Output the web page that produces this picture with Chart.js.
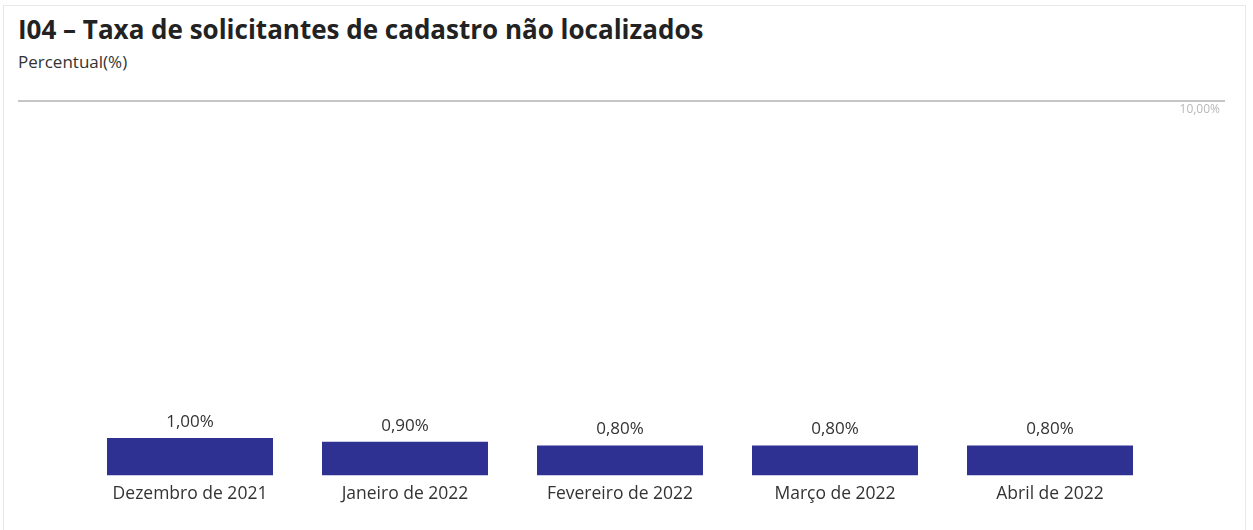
<!DOCTYPE html>
<html lang="pt">
<head>
    <meta charset="UTF-8">
    <title>I04 – Taxa de solicitantes de cadastro não localizados</title>
    <style>
        html, body { margin: 0; padding: 0; background: #fff; }
        body { width: 1253px; height: 530px; position: relative; overflow: hidden; font-family: "Open Sans", sans-serif; }
        .frame { position: absolute; left: 3px; top: 5px; width: 1243px; height: 540px; border: 1px solid #e8e8e8; box-sizing: border-box; }
        h1 { position: absolute; left: 18px; top: 11px; margin: 0; font-size: 26px; font-weight: 700; color: #222; white-space: nowrap; }
        .sub { position: absolute; left: 18px; top: 50px; margin: 0; font-size: 17px; color: #333; }
        #chartWrap { position: absolute; left: 0; top: 0; width: 1253px; height: 530px; }
    </style>
</head>
<body>
    <div class="frame"></div>
    <h1>I04 – Taxa de solicitantes de cadastro não localizados</h1>
    <p class="sub">Percentual(%)</p>
    <div id="chartWrap"><canvas id="taxaChart"></canvas></div>

    <script src="https://cdn.jsdelivr.net/npm/chart.js"></script>
    <script>
        const meses = ['Dezembro de 2021', 'Janeiro de 2022', 'Fevereiro de 2022', 'Março de 2022', 'Abril de 2022'];
        const taxas = [1.00, 0.90, 0.80, 0.80, 0.80];
        const yMax = 10;

        const fmt = v => v.toFixed(2).replace('.', ',') + '%';

        // top reference line + value labels
        const extras = {
            id: 'extras',
            afterDraw(chart) {
                const ctx = chart.ctx;
                const y = chart.scales.y.getPixelForValue(yMax);
                ctx.save();
                ctx.strokeStyle = '#c6c6c6';
                ctx.lineWidth = 2;
                ctx.beginPath();
                ctx.moveTo(18, y);
                ctx.lineTo(1225, y);
                ctx.stroke();
                ctx.fillStyle = '#b8b8b8';
                ctx.font = '12px "Open Sans"';
                ctx.textAlign = 'right';
                ctx.textBaseline = 'middle';
                ctx.fillText(fmt(yMax), 1220, y + 9);

                ctx.fillStyle = '#333';
                ctx.font = '17px "Open Sans"';
                ctx.textAlign = 'center';
                chart.getDatasetMeta(0).data.forEach((bar, i) => {
                    ctx.fillText(fmt(taxas[i]), bar.x, bar.y - 16);
                });
                ctx.restore();
            }
        };

        new Chart(document.getElementById('taxaChart'), {
            type: 'bar',
            data: {
                labels: meses,
                datasets: [{
                    data: taxas,
                    backgroundColor: '#2e3192',
                    barPercentage: 1,
                    categoryPercentage: 0.772
                }]
            },
            options: {
                responsive: true,
                maintainAspectRatio: false,
                animation: false,
                layout: { padding: { left: 82.5, right: 95.5, top: 101, bottom: 17.6 } },
                plugins: { legend: { display: false }, tooltip: { enabled: false } },
                scales: {
                    x: {
                        grid: { display: false, drawTicks: false },
                        border: { display: false },
                        ticks: { color: '#333', padding: 8, font: { family: 'Open Sans', size: 17.5 } }
                    },
                    y: { display: false, min: 0, max: yMax }
                }
            },
            plugins: [extras]
        });
    </script>
</body>
</html>
